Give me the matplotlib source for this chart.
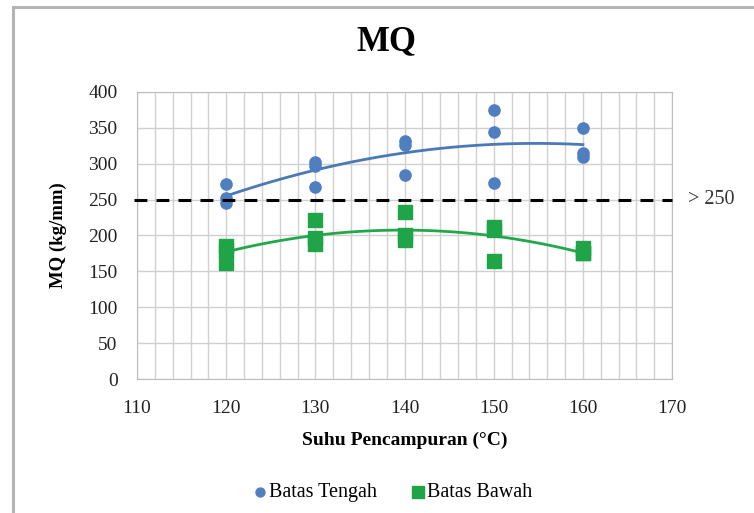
import numpy as np
import matplotlib.pyplot as plt
from matplotlib.patches import Rectangle

# data
suhu = [120, 130, 140, 150, 160]
tengah = [[272, 252, 245], [303, 297, 267], [332, 326, 284], [375, 344, 273], [350, 315, 310]]
bawah = [[185, 180, 162], [222, 197, 188], [233, 201, 194], [212, 208, 164], [182, 175, 176]]
batas = 250

plt.rcParams['font.family'] = ['Liberation Serif', 'DejaVu Serif']

fig = plt.figure(figsize=(7.54, 5.13), dpi=100)
ax = fig.add_axes([0.1817, 0.2612, 0.7096, 0.5595])

# chart border
fig.patches.append(Rectangle((13 / 754, -0.05), 1.0, 1 - 7 / 513 + 0.05, transform=fig.transFigure,
                             fill=False, edgecolor='#b4b4b4', linewidth=2.2))

blue = '#4f7fc0'
green = '#1fa447'

xs_t = np.repeat(suhu, 3)
ys_t = np.concatenate(tengah)
xs_b = np.repeat(suhu, 3)
ys_b = np.concatenate(bawah)

ax.scatter(xs_t, ys_t, s=65, marker='o', color=blue, zorder=3, label='Batas Tengah')
ax.scatter(xs_b, ys_b, s=115, marker='s', color=green, zorder=3, label='Batas Bawah')

# 2nd order trend lines
xx = np.linspace(120, 160, 100)
ax.plot(xx, np.polyval(np.polyfit(xs_t, ys_t, 2), xx), color='#4a78b8', lw=2, zorder=2)
ax.plot(xx, np.polyval(np.polyfit(xs_b, ys_b, 2), xx), color='#22a84a', lw=2, zorder=2)

ax.axhline(batas, xmin=-0.005, xmax=1, color='black', lw=2.2, ls=(0, (4.2, 3)), clip_on=False, zorder=4)
ax.text(1.03, batas, '> 250', transform=ax.get_yaxis_transform(), va='center', ha='left',
        fontsize=14.5, color='#333333')

ax.set_xlim(110, 170)
ax.set_ylim(0, 400)
ax.set_xticks(range(110, 171, 10))
ax.set_xticks(range(110, 171, 2), minor=True)
ax.set_yticks(range(0, 401, 50))
ax.grid(True, which='both', axis='x', color='#d0d0d0', lw=1)
ax.grid(True, which='major', axis='y', color='#d0d0d0', lw=1)
ax.set_axisbelow(True)
for s in ax.spines.values():
    s.set_color('#bdbdbd')
ax.tick_params(which='both', length=0, labelsize=14, colors='#222222')
ax.tick_params(axis='x', pad=15)
ax.tick_params(axis='y', pad=14)

fig.text(0.513, 0.918, 'MQ', fontsize=25, fontweight='bold', ha='center', va='center')
ax.set_xlabel('Suhu Pencampuran (°C)', fontsize=14, fontweight='bold', labelpad=11)
ax.set_ylabel('MQ (kg/mm)', fontsize=13.5, fontweight='bold', labelpad=15)

fig.legend(handles=ax.collections, loc='center', bbox_to_anchor=(0.52, 0.04), ncol=2, frameon=False,
           fontsize=14.5, handlelength=0.8, handletextpad=0.05, columnspacing=1.6, markerscale=0.8)

fig.savefig('out.png', dpi=100)
